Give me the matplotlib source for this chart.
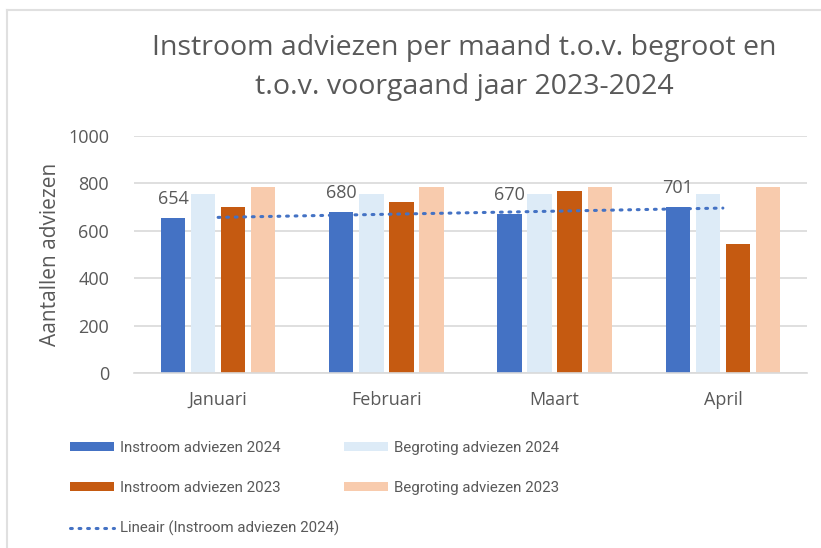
import numpy as np
import matplotlib.pyplot as plt
from matplotlib.lines import Line2D

plt.rcParams['font.family'] = ['Open Sans', 'DejaVu Sans']

maanden = ["Januari", "Februari", "Maart", "April"]
instroom_2024 = [654, 680, 670, 701]
begroting_2024 = [757, 757, 757, 757]
instroom_2023 = [700, 720, 766, 546]
begroting_2023 = [786, 786, 786, 786]

grijs = "#595959"
kleuren = ["#4472C4", "#DDEBF7", "#C55A11", "#F8CBAD"]
namen = ["Instroom adviezen 2024", "Begroting adviezen 2024",
         "Instroom adviezen 2023", "Begroting adviezen 2023"]
reeksen = [instroom_2024, begroting_2024, instroom_2023, begroting_2023]

fig = plt.figure(figsize=(8.21, 5.48), dpi=100)
ax = fig.add_axes([134 / 821, 1 - 373 / 548, 673 / 821, 237 / 548])

x = np.arange(len(maanden))
breedte = 0.145
stap = 0.179
staven = []
for i, (vals, kleur, naam) in enumerate(zip(reeksen, kleuren, namen)):
    b = ax.bar(x + (i - 1.5) * stap, vals, breedte, color=kleur, label=naam, zorder=2)
    staven.append(b)

# labels boven de blauwe staven
for xi, v in zip(x, instroom_2024):
    ax.annotate(str(v), (xi - 1.5 * stap, v), xytext=(0, 7), textcoords="offset points",
                ha="center", va="bottom", fontsize=13, color=grijs)

# lineaire trendlijn
coef = np.polyfit(x, instroom_2024, 1)
trend, = ax.plot(x, np.polyval(coef, x), color="#4472C4", lw=2.2,
                 linestyle=(0, (0.6, 2.2)), dash_capstyle="round", zorder=3,
                 label="Lineair (Instroom adviezen 2024)")

ax.set_xlim(-0.5, 3.5)
ax.set_ylim(0, 1000)
ax.set_yticks(range(0, 1001, 200))
ax.set_xticks(x)
ax.set_xticklabels(maanden)
ax.yaxis.grid(True, color="#D9D9D9", lw=1.2, zorder=0)
ax.set_axisbelow(True)
for s in ["top", "right", "left"]:
    ax.spines[s].set_visible(False)
ax.spines["bottom"].set_color("#D9D9D9")
ax.spines["bottom"].set_linewidth(1.2)
ax.tick_params(axis="both", length=0, labelsize=13, labelcolor=grijs)
ax.tick_params(axis="x", pad=13)
ax.tick_params(axis="y", pad=18)
ax.set_ylabel("Aantallen adviezen", fontsize=15, color=grijs, labelpad=5)

fig.text(0.565, 1 - 48 / 548, "Instroom adviezen per maand t.o.v. begroot en",
         ha="center", va="center", fontsize=20.5, color=grijs)
fig.text(0.565, 1 - 87 / 548, "t.o.v. voorgaand jaar 2023-2024",
         ha="center", va="center", fontsize=20.5, color=grijs)

handles = [staven[0], staven[2], trend, staven[1], staven[3]]
labels = [namen[0], namen[2], trend.get_label(), namen[1], namen[3]]
legfont = {"family": ["Roboto", "Open Sans"], "size": 10.8}
leg = fig.legend(handles, labels, loc="upper left", bbox_to_anchor=(58 / 821, 1 - 429 / 548),
                 ncol=2, frameon=False, prop=legfont, labelcolor=grijs,
                 handlelength=2.95, handleheight=0.5, labelspacing=1.72,
                 columnspacing=0.3, handletextpad=0.4, borderpad=0.3)

# rand van het grafiekvak
fig.add_artist(Line2D([7 / 821, 7 / 821], [0, 1 - 10 / 548], color="#E0E0E0", lw=1.5))
fig.add_artist(Line2D([7 / 821, 1], [1 - 10 / 548, 1 - 10 / 548], color="#E0E0E0", lw=1.5))

fig.savefig("out.png", dpi=100)
